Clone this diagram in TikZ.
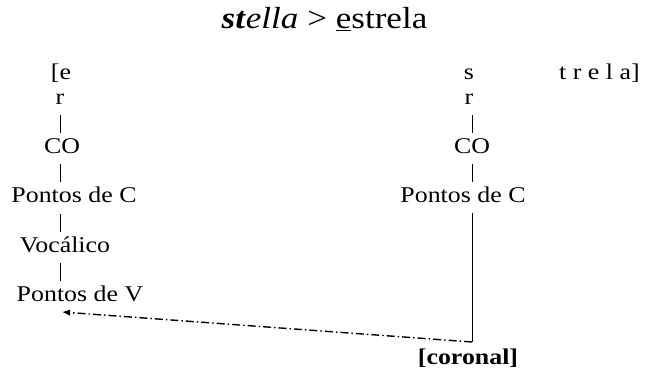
\documentclass[tikz,border=0pt]{standalone}
\usepackage{fontspec}
\setmainfont{Liberation Serif}[FakeStretch=1.15]
\usepackage{tikz}
\usetikzlibrary{arrows.meta}
\tikzset{
  seg/.style={anchor=base,inner sep=0pt,text height=14pt,text depth=4pt,
    font=\fontsize{22.5}{26}\selectfont},
  bar/.style={line width=0.8pt,shorten <=6.7pt,shorten >=6.7pt},
  link/.style={line width=1.4pt,-{Latex[length=8pt,width=6.5pt]},
    dash pattern=on 8pt off 3pt on 1.5pt off 3pt}
}

\begin{document}
\begin{tikzpicture}[x=1pt,y=-1pt]
  \useasboundingbox (0,0) rectangle (649,369);
  % Titel
  \node[anchor=base,inner sep=0pt,font=\fontsize{30.5}{34}\selectfont] (title) at (324.5,29)
    {\textbf{\textit{st}}\textit{ella} > \underline{e}strela};
  % Spalten
  \coordinate (lx) at (60,0);
  \coordinate (rx) at (472,0);
  % linker Baum ([e)
  \node[seg] (e1) at (61,79.5) {[e};
  \node[seg] (r1) at (60,104.2) {r};
  \node[seg] (co1) at (62,153.6) {CO};
  \node[seg] (pc1) at (74,203) {Pontos de C};
  \node[seg] (voc) at (65,252.4) {Vocálico};
  \node[seg] (pv) at (80,301.8) {Pontos de V};
  \draw[bar] (r1.south -| lx) -- (co1.north -| lx);
  \draw[bar] (co1.south -| lx) -- (pc1.north -| lx);
  \draw[bar] (pc1.south -| lx) -- (voc.north -| lx);
  \draw[bar] (voc.south -| lx) -- (pv.north -| lx);
  % rechter Baum (s)
  \node[seg] (s2) at (469,79.5) {s};
  \node[seg,anchor=base west] (rest) at (559,79.5) {t r e l a]};
  \node[seg] (r2) at (469,104.2) {r};
  \node[seg] (co2) at (472,153.6) {CO};
  \node[seg] (pc2) at (463,203) {Pontos de C};
  \draw[bar] (r2.south -| rx) -- (co2.north -| rx);
  \draw[bar] (co2.south -| rx) -- (pc2.north -| rx);
  % [coronal] wird nach links uebertragen
  \node[seg] (cor) at (468,364) {\textbf{[coronal]}};
  \coordinate (corner) at (472,342);
  \coordinate (tip) at (62,312);
  \draw[line width=1pt,shorten <=6pt] (pc2.south -| rx) -- (corner);
  \draw[link] (corner) -- (tip);
\end{tikzpicture}
\end{document}
